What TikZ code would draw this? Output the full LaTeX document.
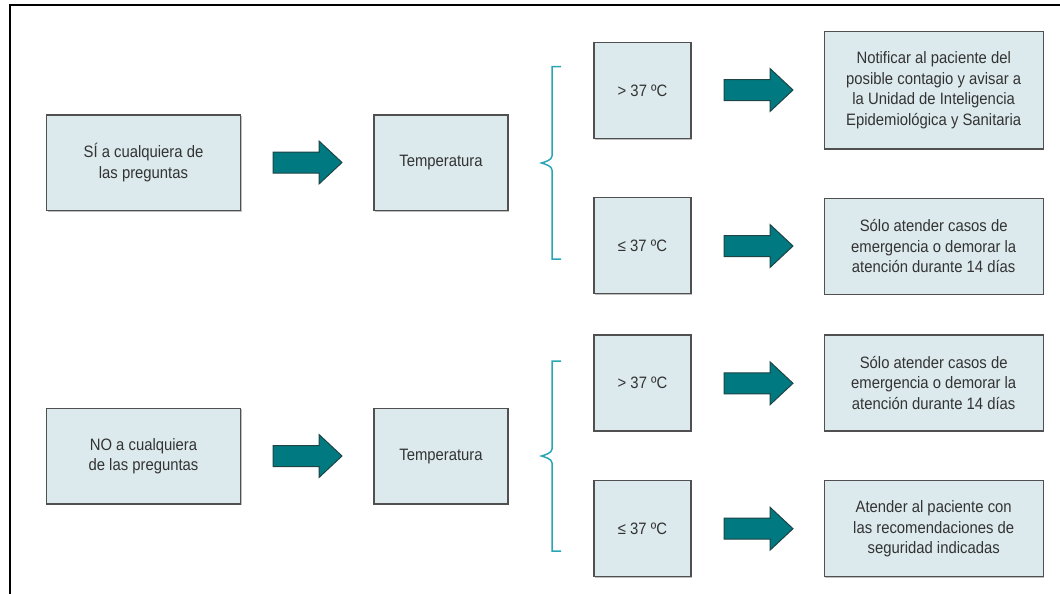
\documentclass[tikz,border=0pt]{standalone}
\usepackage{fontspec}
\setmainfont[FakeStretch=0.9]{Liberation Sans}
\usetikzlibrary{shadows}
\definecolor{boxfill}{HTML}{DCEAEE}
\definecolor{boxline}{HTML}{505050}
\definecolor{textcol}{HTML}{333333}
\definecolor{arrowfill}{HTML}{007A80}
\definecolor{arrowline}{HTML}{1E4446}
\definecolor{bracecol}{HTML}{2AA5B3}
\begin{document}
\begin{tikzpicture}[x=1pt,y=-1pt,
  box/.style={draw=boxline, line width=1.2pt, fill=boxfill, inner sep=0pt,
    align=center, text=textcol, font=\fontsize{16.5}{20.5}\selectfont,
    drop shadow={shadow xshift=1pt, shadow yshift=-1pt, fill=black, opacity=0.25}},
  wide/.style={box, minimum width=194pt, minimum height=95.5pt},
  temp/.style={box, minimum width=134pt, minimum height=95.5pt},
  small/.style={box, minimum width=97pt, minimum height=96pt},
  result/.style={box, minimum width=219pt, minimum height=96pt},
  arrowshape/.style={draw=arrowline, fill=arrowfill, line width=1pt, line join=miter},
  bracestyle/.style={draw=bracecol, line width=1.5pt},
  frame/.style={draw=black, line width=2pt},
  blockarrow/.pic={\path[arrowshape] (0,-10.5) -- (46,-10.5) -- (46,-21.5) -- (69,0) -- (46,21.5) -- (46,10.5) -- (0,10.5) -- cycle;},
]
\useasboundingbox (0,0) rectangle (1060,594);
\path[frame] (1060,5) -- (9.5,5) -- (9.5,594);

% upper group
\node[wide]  (s1) at (143.5,162.75) {SÍ a cualquiera de\\las preguntas};
\node[temp]  (t1) at (441,162.75) {Temperatura};
\node[small] (h1) at (642.5,90.7) {> 37 ºC};
\node[small] (l1) at (642.5,245.5) {≤ 37 ºC};
\node[result, minimum height=117.3pt] (r1) at (933.7,90.35) {Notificar al paciente del\\posible contagio y avisar a\\la Unidad de Inteligencia\\Epidemiológica y Sanitaria};
\node[result] (r2) at (933.7,246.2) {Sólo atender casos de\\emergencia o demorar la\\atención durante 14 días};

\pic at (273,162.5) {blockarrow};
\pic at (724,90) {blockarrow};
\pic at (724,246) {blockarrow};

\path[bracestyle] (561,66.7) -- (552,66.7) -- (552,156)
  .. controls (552,160) and (545,162) .. (541.5,163)
  .. controls (545,164) and (552,166) .. (552,170) -- (552,259) -- (561,259);

% lower group
\node[wide]  (n1) at (143.5,456.2) {NO a cualquiera\\de las preguntas};
\node[temp]  (t2) at (441,456.2) {Temperatura};
\node[small] (h2) at (642.5,383) {> 37 ºC};
\node[small] (l2) at (642.5,528.7) {≤ 37 ºC};
\node[result] (r3) at (933.7,383) {Sólo atender casos de\\emergencia o demorar la\\atención durante 14 días};
\node[result] (r4) at (933.7,528.8) {Atender al paciente con\\las recomendaciones de\\seguridad indicadas};

\pic at (273,456) {blockarrow};
\pic at (724,383.3) {blockarrow};
\pic at (724,528.7) {blockarrow};

\path[bracestyle] (561,361) -- (552,361) -- (552,449)
  .. controls (552,453) and (545,455) .. (541.5,456)
  .. controls (545,457) and (552,459) .. (552,463) -- (552,551) -- (561,551);
\end{tikzpicture}
\end{document}
